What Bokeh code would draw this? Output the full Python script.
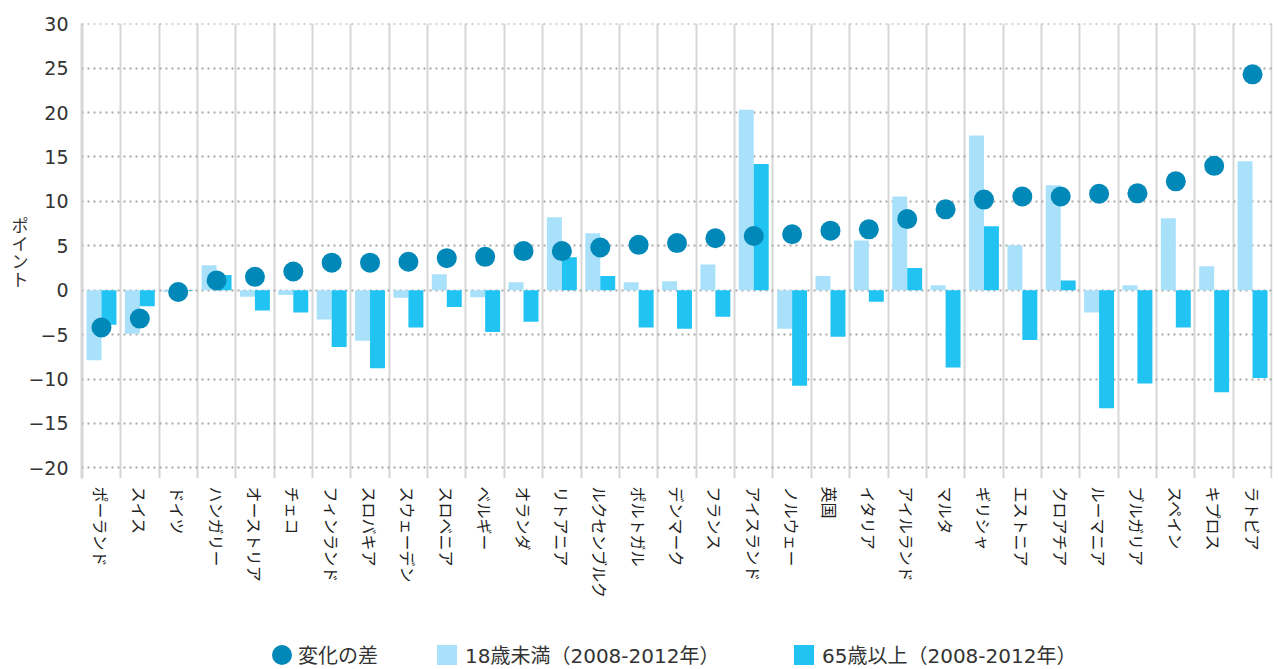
from bokeh.plotting import figure
from bokeh.layouts import column
from bokeh.models import (ColumnDataSource, FactorRange, Range1d, FixedTicker,
                          Legend, LegendItem)
from bokeh.transform import dodge
from bokeh.embed import file_html
from bokeh.resources import INLINE

countries = ["ポーランド", "スイス", "ドイツ", "ハンガリー", "オーストリア", "チェコ",
             "フィンランド", "スロバキア", "スウェーデン", "スロベニア", "ベルギー",
             "オランダ", "リトアニア", "ルクセンブルク", "ポルトガル", "デンマーク",
             "フランス", "アイスランド", "ノルウェー", "英国", "イタリア", "アイルランド",
             "マルタ", "ギリシャ", "エストニア", "クロアチア", "ルーマニア", "ブルガリア",
             "スペイン", "キプロス", "ラトビア"]
diff = [-4.2, -3.2, -0.2, 1.1, 1.5, 2.1, 3.1, 3.1, 3.2, 3.6, 3.75,
        4.4, 4.4, 4.8, 5.1, 5.3, 5.85, 6.1, 6.3, 6.7, 6.85, 8.0,
        9.1, 10.2, 10.55, 10.55, 10.85, 10.9, 12.25, 14.0, 24.3]
under18 = [-7.9, -4.9, -0.2, 2.8, -0.75, -0.55, -3.3, -5.7, -0.85, 1.8, -0.8,
           0.9, 8.2, 6.4, 0.9, 1.0, 2.9, 20.3, -4.35, 1.6, 5.6, 10.55,
           0.56, 17.4, 5.05, 11.8, -2.5, 0.56, 8.1, 2.7, 14.5]
over65 = [-3.9, -1.8, -0.1, 1.7, -2.3, -2.5, -6.4, -8.8, -4.2, -1.9, -4.7,
          -3.55, 3.7, 1.6, -4.2, -4.35, -3.0, 14.2, -10.75, -5.25, -1.3, 2.5,
          -8.7, 7.2, -5.6, 1.1, -13.3, -10.5, -4.2, -11.5, -9.9]
y_ticks = [-20, -15, -10, -5, 0, 5, 10, 15, 20, 25, 30]
legend_labels = ["変化の差", "18歳未満（2008-2012年）", "65歳以上（2008-2012年）"]
y_label = "ポイント"

FONT = "Noto Sans CJK JP"
LEG_FONT = "DejaVu Sans, Noto Sans CJK JP"
C_DOT = "#0089B8"
C_U18 = "#A9E1FA"
C_O65 = "#21C3F3"
NAN = float("nan")

src = ColumnDataSource(dict(country=countries, diff=diff, u18=under18, o65=over65))

p = figure(width=1278, height=609,
           x_range=FactorRange(*countries, range_padding=0.02, range_padding_units="absolute"),
           y_range=Range1d(-21.2, 30.02),
           output_backend="svg", toolbar_location=None,
           min_border_left=81, min_border_right=6, min_border_top=23, min_border_bottom=131)
p.outline_line_color = None
p.background_fill_color = "white"

# grids
p.xgrid.ticker = FixedTicker(ticks=list(range(len(countries) + 1)))
p.xgrid.grid_line_color = "#d6d6d6"
p.xgrid.grid_line_width = 2
p.ygrid.ticker = FixedTicker(ticks=y_ticks)
p.ygrid.grid_line_color = "#a8a8a8"
p.ygrid.grid_line_width = 2
p.ygrid.grid_line_dash = "2 4"

# bars and dots
p.vbar(x=dodge("country", -0.195, range=p.x_range), top="u18", width=0.39,
       source=src, fill_color=C_U18, line_color=None)
p.vbar(x=dodge("country", 0.195, range=p.x_range), top="o65", width=0.39,
       source=src, fill_color=C_O65, line_color=None)
p.scatter(x="country", y="diff", size=20, source=src,
          fill_color=C_DOT, line_color=None)

# y axis
p.yaxis.ticker = FixedTicker(ticks=y_ticks)
p.yaxis.major_label_overrides = {t: str(t).replace("-", "\u2212") for t in y_ticks}
p.yaxis.major_label_text_font = "DejaVu Sans"
p.yaxis.major_label_text_font_size = "19px"
p.yaxis.major_label_text_color = "#333333"
p.yaxis.major_tick_line_color = None
p.yaxis.minor_tick_line_color = None
p.yaxis.major_tick_out = 0
p.yaxis.major_label_standoff = 13
p.yaxis.axis_line_color = "#d6d6d6"
p.yaxis.axis_line_width = 2
p.yaxis.axis_label = "\n".join(y_label)
p.yaxis.axis_label_orientation = "horizontal"
p.yaxis.axis_label_standoff = -3
p.yaxis.axis_label_text_font = FONT
p.yaxis.axis_label_text_font_size = "17px"
p.yaxis.axis_label_text_font_style = "normal"
p.yaxis.axis_label_text_color = "#333333"
p.yaxis.axis_label_text_line_height = 0.72

# x axis
p.xaxis.major_label_orientation = "vertical"
p.xaxis.major_label_text_font = FONT
p.xaxis.major_label_text_font_size = "16px"
p.xaxis.major_label_text_color = "#222222"
p.xaxis.major_tick_line_color = None
p.xaxis.major_tick_out = 0
p.xaxis.axis_line_color = None
p.xaxis.major_label_standoff = 8

# legend strip (separate figure so nothing is clipped); glyphs are legend proxies only
lf = figure(width=1278, height=60, x_range=Range1d(0, 1), y_range=Range1d(0, 1),
            output_backend="svg", toolbar_location=None,
            x_axis_location=None, y_axis_location=None, min_border=0)
lf.outline_line_color = None
lf.xgrid.visible = False
lf.ygrid.visible = False
g_dot = lf.ellipse(x=[NAN], y=[NAN], width=20, height=20,
                   width_units="screen", height_units="screen",
                   fill_color=C_DOT, line_color=None)
g_u18 = lf.vbar(x=[NAN], top=[NAN], width=0.1, fill_color=C_U18, line_color=None)
g_o65 = lf.vbar(x=[NAN], top=[NAN], width=0.1, fill_color=C_O65, line_color=None)

common = dict(orientation="horizontal", padding=0, margin=0,
              background_fill_alpha=0, border_line_color=None,
              label_text_font=LEG_FONT, label_text_font_size="20px",
              label_text_color="#333333", glyph_width=25, glyph_height=25,
              label_height=25)
lf.add_layout(Legend(items=[LegendItem(label=legend_labels[0], renderers=[g_dot])],
                     location=(188, 0), label_standoff=4, **common))
lf.add_layout(Legend(items=[LegendItem(label=legend_labels[1], renderers=[g_u18])],
                     location=(353, 0), label_standoff=6, **common))
lf.add_layout(Legend(items=[LegendItem(label=legend_labels[2], renderers=[g_o65])],
                     location=(710, 0), label_standoff=6, **common))

layout = column(p, lf, spacing=0)
open("out.html", "w").write(file_html(layout, INLINE))
